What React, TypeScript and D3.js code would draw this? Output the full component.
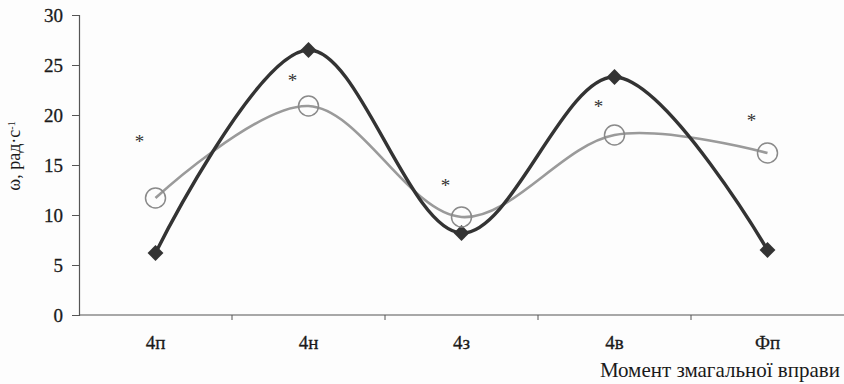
import React, { useEffect, useRef } from "react";
import * as d3 from "d3";

// chart data
const categories = ["4п", "4н", "4з", "4в", "Фп"];
const darkSeries = [6.2, 26.5, 8.2, 23.8, 6.5];
const graySeries = [11.7, 20.9, 9.8, 18.0, 16.2];
const starValues = [17.7, 23.8, 13.3, 21.2, 19.8];
const yTicks = [0, 5, 10, 15, 20, 25, 30];

export default function App() {
  const svgRef = useRef<SVGSVGElement | null>(null);

  useEffect(() => {
    if (!svgRef.current) return;
    const svg = d3.select(svgRef.current);
    svg.selectAll("*").remove();

    const width = 844;
    const height = 384;
    const margin = { top: 15, right: 0, bottom: 69, left: 79 };
    const innerW = width - margin.left - margin.right;
    const innerH = height - margin.top - margin.bottom;
    const font = "'Liberation Serif', 'Times New Roman', serif";

    svg.append("rect").attr("width", width).attr("height", height).attr("fill", "#fdfdfd");

    const g = svg.append("g").attr("transform", `translate(${margin.left},${margin.top})`);

    // x scale (one band per moment)
    const x = d3.scaleBand().domain(categories).range([0, innerW]);
    const cx = (c: string) => (x(c) ?? 0) + x.bandwidth() / 2;

    // y scale
    const y = d3.scaleLinear().domain([0, 30]).range([innerH, 0]);

    // y axis
    const yAxis = g.append("g").call(d3.axisLeft(y).tickValues(yTicks).tickSize(7).tickPadding(9));
    yAxis.select(".domain").attr("stroke", "#555").attr("stroke-width", 1.2);
    yAxis.selectAll(".tick line").attr("stroke", "#555");
    yAxis.selectAll("text")
      .attr("font-family", font)
      .attr("font-size", 19)
      .attr("fill", "#1a1a1a")
      .attr("stroke", "#1a1a1a")
      .attr("stroke-width", 0.3);

    // x axis, ticks between categories
    g.append("line")
      .attr("x1", 0)
      .attr("x2", innerW)
      .attr("y1", innerH)
      .attr("y2", innerH)
      .attr("stroke", "#555")
      .attr("stroke-width", 1.2);
    g.selectAll(".xtick")
      .data(categories.slice(1))
      .enter()
      .append("line")
      .attr("x1", (d) => x(d) ?? 0)
      .attr("x2", (d) => x(d) ?? 0)
      .attr("y1", innerH)
      .attr("y2", innerH + 5)
      .attr("stroke", "#555");
    g.selectAll(".xlabel")
      .data(categories)
      .enter()
      .append("text")
      .attr("x", (d) => cx(d))
      .attr("y", innerH + 34)
      .attr("text-anchor", "middle")
      .attr("font-family", font)
      .attr("font-size", 19)
      .attr("fill", "#1a1a1a")
      .attr("stroke", "#1a1a1a")
      .attr("stroke-width", 0.3)
      .text((d) => d);

    // axis titles
    svg.append("text")
      .attr("x", 840)
      .attr("y", 377)
      .attr("text-anchor", "end")
      .attr("font-family", font)
      .attr("font-size", 21)
      .attr("fill", "#1a1a1a")
      .text("Момент змагальної вправи");

    const yTitle = svg.append("text")
      .attr("transform", "translate(20,156) rotate(-90)")
      .attr("text-anchor", "middle")
      .attr("font-family", font)
      .attr("font-size", 18)
      .attr("fill", "#1a1a1a");
    yTitle.append("tspan").text("ω,  рад·с");
    yTitle.append("tspan").attr("baseline-shift", "super").attr("font-size", 10).text("-1");

    const line = d3
      .line<number>()
      .x((_, i) => cx(categories[i]))
      .y((d) => y(d))
      .curve(d3.curveCatmullRom.alpha(0.5));

    // gray series
    g.append("path")
      .datum(graySeries)
      .attr("d", line)
      .attr("fill", "none")
      .attr("stroke", "#9a9a9a")
      .attr("stroke-width", 2.6);

    // dark series
    g.append("path")
      .datum(darkSeries)
      .attr("d", line)
      .attr("fill", "none")
      .attr("stroke", "#333")
      .attr("stroke-width", 3.4);

    g.selectAll(".diamond")
      .data(darkSeries)
      .enter()
      .append("path")
      .attr("d", d3.symbol(d3.symbolDiamond2, 160)())
      .attr("transform", (d, i) => `translate(${cx(categories[i])},${y(d)})`)
      .attr("fill", "#333");

    g.selectAll(".circle")
      .data(graySeries)
      .enter()
      .append("circle")
      .attr("cx", (_, i) => cx(categories[i]))
      .attr("cy", (d) => y(d))
      .attr("r", 10)
      .attr("fill", "none")
      .attr("stroke", "#8a8a8a")
      .attr("stroke-width", 1.5);

    // significance asterisks
    g.selectAll(".star")
      .data(starValues)
      .enter()
      .append("text")
      .attr("x", (_, i) => cx(categories[i]) - 16)
      .attr("y", (d) => y(d) + 10)
      .attr("text-anchor", "middle")
      .attr("font-family", font)
      .attr("font-size", 19)
      .attr("fill", "#333")
      .text("*");
  }, []);

  return (
    <svg
      ref={svgRef}
      width={844}
      height={384}
      style={{ position: "absolute", left: 0, top: 0, display: "block" }}
    />
  );
}
